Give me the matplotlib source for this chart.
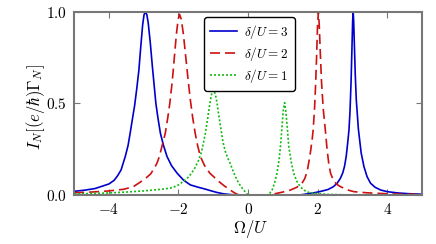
import matplotlib
matplotlib.use('Agg')
import matplotlib.pyplot as plt
from matplotlib.ticker import FuncFormatter

plt.rcParams['mathtext.fontset'] = 'cm'
plt.rcParams['font.family'] = ['DejaVu Serif']

# curves: Omega/U and I_N
omega_d3 = [-5.0, -4.7, -4.4, -4.0, -3.85, -3.75, -3.65, -3.53, -3.45, -3.39, -3.32,
            -3.26, -3.2, -3.14, -3.08, -3.03, -2.99, -2.95, -2.91, -2.87, -2.81,
            -2.75, -2.7, -2.65, -2.59, -2.52, -2.43, -2.33, -2.2, -2.04, -1.85,
            -1.66, -1.45, -1.25, -1.09, -0.9, -0.7, -0.5, -0.3, 1.5, 1.7, 1.9, 2.1,
            2.3, 2.45, 2.56, 2.65, 2.72, 2.77, 2.82, 2.86, 2.9, 2.93, 2.96, 2.985,
            3.005, 3.02, 3.035, 3.055, 3.08, 3.11, 3.17, 3.25, 3.33, 3.42, 3.52,
            3.65, 3.81, 4.0, 4.3, 4.6, 5.0]
curr_d3 = [0.02, 0.026, 0.035, 0.06, 0.08, 0.105, 0.137, 0.21, 0.27, 0.337, 0.42,
           0.49, 0.58, 0.68, 0.82, 0.93, 0.985, 1.0, 0.985, 0.94, 0.83,
           0.7, 0.6, 0.5, 0.42, 0.337, 0.27, 0.21, 0.16, 0.119, 0.08,
           0.055, 0.043, 0.033, 0.024, 0.014, 0.006, 0.002, 0.0, 0.0, 0.006, 0.012, 0.02,
           0.03, 0.045, 0.064, 0.09, 0.12, 0.155, 0.21, 0.28, 0.355, 0.46, 0.62, 0.8,
           0.95, 1.0, 0.95, 0.82, 0.66, 0.52, 0.36, 0.23, 0.155, 0.1, 0.064,
           0.042, 0.027, 0.018, 0.011, 0.007, 0.004]

omega_d2 = [-5.0, -4.5, -4.0, -3.58, -3.3, -3.1, -2.95, -2.8, -2.7, -2.62, -2.55,
            -2.47, -2.38, -2.31, -2.25, -2.18, -2.12, -2.06, -2.01, -1.97, -1.92,
            -1.86, -1.8, -1.73, -1.66, -1.59, -1.52, -1.45, -1.37, -1.25, -1.1,
            -0.99, -0.85, -0.7, -0.55, -0.42, -0.33, -0.25, 0.55, 0.7, 0.83, 1.0,
            1.22, 1.4, 1.55, 1.63, 1.7, 1.74, 1.79, 1.84, 1.87, 1.91, 1.94, 1.97,
            1.995, 2.02, 2.045, 2.075, 2.11, 2.16, 2.22, 2.27, 2.32, 2.37, 2.45,
            2.55, 2.66, 2.85, 3.04, 3.4, 3.71, 4.2, 5.0]
curr_d2 = [0.012, 0.016, 0.022, 0.031, 0.045, 0.07, 0.09, 0.115, 0.145, 0.173, 0.21,
           0.27, 0.337, 0.42, 0.5, 0.62, 0.75, 0.88, 0.96, 0.987, 0.96,
           0.88, 0.77, 0.64, 0.52, 0.42, 0.337, 0.27, 0.21, 0.16, 0.119,
           0.1, 0.075, 0.052, 0.032, 0.015, 0.005, 0.0, 0.0, 0.004, 0.009, 0.016,
           0.027, 0.042, 0.064, 0.09, 0.13, 0.173, 0.23, 0.3, 0.355, 0.47, 0.6, 0.76,
           0.92, 1.0, 0.93, 0.78, 0.62, 0.47, 0.355, 0.25, 0.17, 0.119, 0.08,
           0.058, 0.045, 0.028, 0.018, 0.012, 0.009, 0.005, 0.003]

omega_d1 = [-5.0, -4.5, -4.0, -3.5, -3.0, -2.6, -2.24, -2.04, -1.85, -1.7, -1.55,
            -1.42, -1.34, -1.28, -1.22, -1.16, -1.1, -1.05, -0.99, -0.94, -0.89,
            -0.85, -0.78, -0.72, -0.65, -0.58, -0.51, -0.42, -0.32, -0.22, -0.12,
            -0.03, 0.02, 0.55, 0.62, 0.69, 0.76, 0.83, 0.89, 0.93, 0.97, 1.01, 1.05,
            1.09, 1.13, 1.17, 1.24, 1.31, 1.4, 1.5, 1.6, 1.7, 1.89, 2.3, 3.0, 5.0]
curr_d1 = [0.006, 0.008, 0.011, 0.016, 0.022, 0.029, 0.037, 0.05, 0.075, 0.1, 0.14,
           0.19, 0.235, 0.287, 0.345, 0.42, 0.5, 0.55, 0.574, 0.55, 0.5,
           0.446, 0.36, 0.288, 0.235, 0.2, 0.17, 0.125, 0.082, 0.05, 0.025,
           0.005, 0.0, 0.0, 0.008, 0.027, 0.065, 0.119, 0.19, 0.264, 0.36, 0.46, 0.504,
           0.45, 0.36, 0.264, 0.18, 0.119, 0.075, 0.045, 0.027, 0.016, 0.009, 0.003, 0.0, 0.0]

labels = [r'$\delta/U=3$', r'$\delta/U=2$', r'$\delta/U=1$']

fig = plt.figure(figsize=(4.36, 2.44), dpi=100)
ax = fig.add_axes([0.170, 0.201, 0.798, 0.750])

ax.plot(omega_d3, curr_d3, color='#0000cc', lw=1.2, label=labels[0])
ax.plot(omega_d2, curr_d2, color='#cc1111', lw=1.2, dashes=(6, 3), label=labels[1])
ax.plot(omega_d1, curr_d1, color='#11bb11', lw=1.2, dashes=(1.2, 1.2), label=labels[2])

ax.set_xlim(-5, 5)
ax.set_ylim(0, 1.0)
ax.set_xticks([-4, -2, 0, 2, 4])
ax.set_yticks([0.0, 0.5, 1.0])
ax.xaxis.set_major_formatter(FuncFormatter(lambda v, p: '$%g$' % v))
ax.yaxis.set_major_formatter(FuncFormatter(lambda v, p: '$%.1f$' % v))
ax.tick_params(direction='in', top=True, right=True, length=4, width=0.8,
               color='#777777', labelsize=11, pad=5)
for s in ax.spines.values():
    s.set_color('#777777')
    s.set_linewidth(1.5)

ax.set_xlabel(r'$\Omega/U$', fontsize=12)
ax.set_ylabel(r'$I_N[(e/\hbar)\Gamma_N]$', fontsize=12)
ax.xaxis.set_label_coords(0.506, -0.125)
ax.yaxis.set_label_coords(-0.078, 0.48)

leg = ax.legend(loc='upper left', bbox_to_anchor=(0.374, 0.973), borderaxespad=0,
                fontsize=9.5, handlelength=2.0, handletextpad=0.6, borderpad=0.45,
                labelspacing=0.3, framealpha=1, fancybox=True)
leg.get_frame().set_edgecolor('black')
leg.get_frame().set_linewidth(1.0)

fig.savefig('out.png', dpi=100)
